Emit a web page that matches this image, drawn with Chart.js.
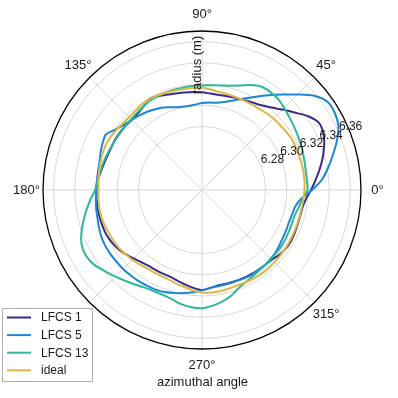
<!DOCTYPE html>
<html><head><meta charset="utf-8">
<script src="https://cdn.jsdelivr.net/npm/chart.js@4/dist/chart.umd.min.js"></script>
<style>html,body{margin:0;padding:0;background:#fff;}canvas{display:block;}</style>
</head><body>
<canvas id="c" width="398" height="398"></canvas>
<script>
// azimuthal angles (degrees, counter-clockwise from east)
const angles = [0,5,10,15,20,25,30,35,40,45,50,55,60,65,70,75,80,85,90,95,100,105,110,115,
  120,125,130,135,140,145,150,155,160,165,170,175,180,185,190,195,200,205,210,215,220,225,230,235,
  240,245,250,255,260,265,270,275,280,285,290,295,300,305,310,315,320,325,330,335,340,345,350,355];

// radius (m) per angle
const lfcs1 = [6.3228,6.3275,6.3327,6.3379,6.3426,6.3464,6.3472,6.3417,6.3337,6.3273,6.3216,6.3176,
  6.3153,6.3137,6.3125,6.3115,6.3111,6.3113,6.3123,6.3129,6.3134,6.3143,6.3158,6.3177,
  6.3191,6.3162,6.3142,6.3137,6.3142,6.3146,6.3148,6.3145,6.3150,6.3158,6.3172,6.3186,
  6.3195,6.3197,6.3199,6.3199,6.3198,6.3196,6.3184,6.3168,6.3142,6.3113,6.3090,6.3075,
  6.3072,6.3071,6.3073,6.3087,6.3106,6.3127,6.3143,6.3127,6.3113,6.3113,6.3116,6.3119,
  6.3120,6.3121,6.3125,6.3130,6.3151,6.3165,6.3169,6.3164,6.3159,6.3158,6.3162,6.3184];
const lfcs5 = [6.3238,6.3337,6.3408,6.3478,6.3554,6.3620,6.3648,6.3648,6.3582,6.3474,6.3375,6.3290,
  6.3216,6.3153,6.3101,6.3063,6.3035,6.3028,6.3021,6.3007,6.3002,6.3011,6.3030,6.3058,
  6.3079,6.3101,6.3118,6.3137,6.3158,6.3195,6.3247,6.3236,6.3219,6.3202,6.3196,6.3195,
  6.3200,6.3205,6.3214,6.3221,6.3234,6.3247,6.3254,6.3254,6.3253,6.3253,6.3250,6.3247,
  6.3242,6.3237,6.3225,6.3207,6.3187,6.3168,6.3148,6.3126,6.3121,6.3118,6.3116,6.3122,
  6.3126,6.3125,6.3123,6.3117,6.3109,6.3096,6.3085,6.3079,6.3075,6.3081,6.3093,6.3139];
const lfcs13 = [6.3195,6.3194,6.3195,6.3203,6.3214,6.3226,6.3240,6.3255,6.3273,6.3296,6.3318,6.3327,
  6.3325,6.3292,6.3249,6.3219,6.3202,6.3191,6.3186,6.3184,6.3182,6.3181,6.3180,6.3178,
  6.3175,6.3162,6.3153,6.3145,6.3140,6.3141,6.3143,6.3149,6.3158,6.3167,6.3176,6.3189,
  6.3209,6.3257,6.3308,6.3360,6.3412,6.3450,6.3457,6.3436,6.3393,6.3356,6.3321,6.3292,
  6.3266,6.3257,6.3257,6.3271,6.3296,6.3311,6.3315,6.3297,6.3271,6.3238,6.3191,6.3164,
  6.3146,6.3133,6.3125,6.3119,6.3118,6.3117,6.3113,6.3108,6.3104,6.3108,6.3127,6.3151];
const ideal = [6.3167,6.3172,6.3172,6.3172,6.3172,6.3173,6.3175,6.3165,6.3158,6.3155,6.3145,6.3137,
  6.3134,6.3132,6.3133,6.3135,6.3139,6.3151,6.3167,6.3168,6.3167,6.3172,6.3179,6.3186,
  6.3190,6.3186,6.3176,6.3172,6.3175,6.3187,6.3198,6.3203,6.3200,6.3193,6.3186,6.3181,
  6.3176,6.3181,6.3184,6.3184,6.3177,6.3168,6.3162,6.3156,6.3143,6.3130,6.3117,6.3104,
  6.3099,6.3097,6.3103,6.3117,6.3132,6.3151,6.3170,6.3172,6.3170,6.3164,6.3160,6.3163,
  6.3167,6.3168,6.3169,6.3166,6.3163,6.3161,6.3158,6.3155,6.3154,6.3154,6.3156,6.3160];

const seriesNames = ['LFCS 1', 'LFCS 5', 'LFCS 13', 'ideal'];
const seriesColors = ['#38298c', '#1c85d8', '#2db89b', '#dfb545'];
const radialTicks = [6.28, 6.30, 6.32, 6.34, 6.36];
const angleTicks = [0, 45, 90, 135, 180, 225, 270, 315];
const rMin = 6.22, rMax = 6.37;

// Chart.js radar runs clockwise from the top; map to counter-clockwise from east.
const radarIdx = angles.map(a => angles.indexOf(((90 - a) % 360 + 360) % 360));
const labels = radarIdx.map(k => angles[k]);
const reorder = arr => radarIdx.map(k => arr[k]);
const seriesData = [lfcs1, lfcs5, lfcs13, ideal];

const FONT = '"Liberation Sans", Arial, Helvetica, sans-serif';

const decor = {
  id: 'decor',
  afterDraw(chart) {
    const s = chart.scales.r;
    const ctx = chart.ctx;
    const xc = s.xCenter, yc = s.yCenter, R = s.drawingArea;
    ctx.save();
    // outer circle
    ctx.beginPath();
    ctx.arc(xc, yc, R, 0, Math.PI * 2);
    ctx.strokeStyle = '#000';
    ctx.lineWidth = 1.3;
    ctx.stroke();
    // radial tick labels
    ctx.fillStyle = '#1a1a1a';
    ctx.font = '12px ' + FONT;
    ctx.textAlign = 'center';
    ctx.textBaseline = 'middle';
    const ta = 23 * Math.PI / 180;
    radialTicks.forEach(v => {
      const d = s.getDistanceFromCenterForValue(v) + 13;
      ctx.fillText(v.toFixed(2), xc + d * Math.cos(ta), yc - d * Math.sin(ta));
    });
    // angle labels
    ctx.font = '13px ' + FONT;
    angleTicks.forEach(a => {
      const t = a * Math.PI / 180;
      const d = R + 16.5;
      ctx.fillText(a + '°', xc + d * Math.cos(t), yc - d * Math.sin(t));
    });
    // axis titles
    ctx.fillText('azimuthal angle', xc + 0.5, 382);
    ctx.save();
    ctx.translate(xc - 4.5, 65);
    ctx.rotate(-Math.PI / 2);
    ctx.fillText('radius (m)', 0, 0);
    ctx.restore();
    // legend
    ctx.fillStyle = '#fff';
    ctx.fillRect(2.5, 308.5, 90, 73);
    ctx.strokeStyle = '#b0b0b0';
    ctx.lineWidth = 1;
    ctx.strokeRect(2.5, 308.5, 90, 73);
    ctx.font = '12px ' + FONT;
    ctx.textAlign = 'left';
    seriesNames.forEach((n, i) => {
      const y = 317.5 + i * 17.6;
      ctx.beginPath();
      ctx.moveTo(7, y);
      ctx.lineTo(31, y);
      ctx.strokeStyle = seriesColors[i];
      ctx.lineWidth = 2;
      ctx.stroke();
      ctx.fillStyle = '#1a1a1a';
      ctx.fillText(n, 41, y + 0.5);
    });
    ctx.restore();
  }
};

new Chart(document.getElementById('c'), {
  type: 'radar',
  data: {
    labels: labels,
    datasets: seriesNames.map((n, i) => ({
      label: n,
      data: reorder(seriesData[i]),
      borderColor: seriesColors[i],
      backgroundColor: seriesColors[i],
      borderWidth: 2,
      fill: false,
      pointRadius: 0,
      pointHoverRadius: 0,
      tension: i === 3 ? 0 : 0.25,
      order: 4 - i
    }))
  },
  options: {
    responsive: false,
    animation: false,
    devicePixelRatio: 1,
    layout: { padding: { left: 43, right: 37, top: 31, bottom: 49 } },
    plugins: { legend: { display: false }, tooltip: { enabled: false } },
    scales: {
      r: {
        min: rMin,
        max: rMax,
        beginAtZero: false,
        ticks: { display: false, stepSize: 0.02 },
        pointLabels: { display: false },
        grid: {
          circular: true,
          color: c => (c.tick && c.tick.value > 6.275 && c.tick.value < 6.365) ? '#d7d7d7' : 'rgba(0,0,0,0)',
          lineWidth: c => (c.tick && c.tick.value > 6.275 && c.tick.value < 6.365) ? 1 : 0
        },
        angleLines: {
          color: '#d7d7d7',
          lineWidth: c => (labels[c.index] % 45 === 0 ? 1 : 0)
        }
      }
    }
  },
  plugins: [decor]
});
</script>
</body></html>
